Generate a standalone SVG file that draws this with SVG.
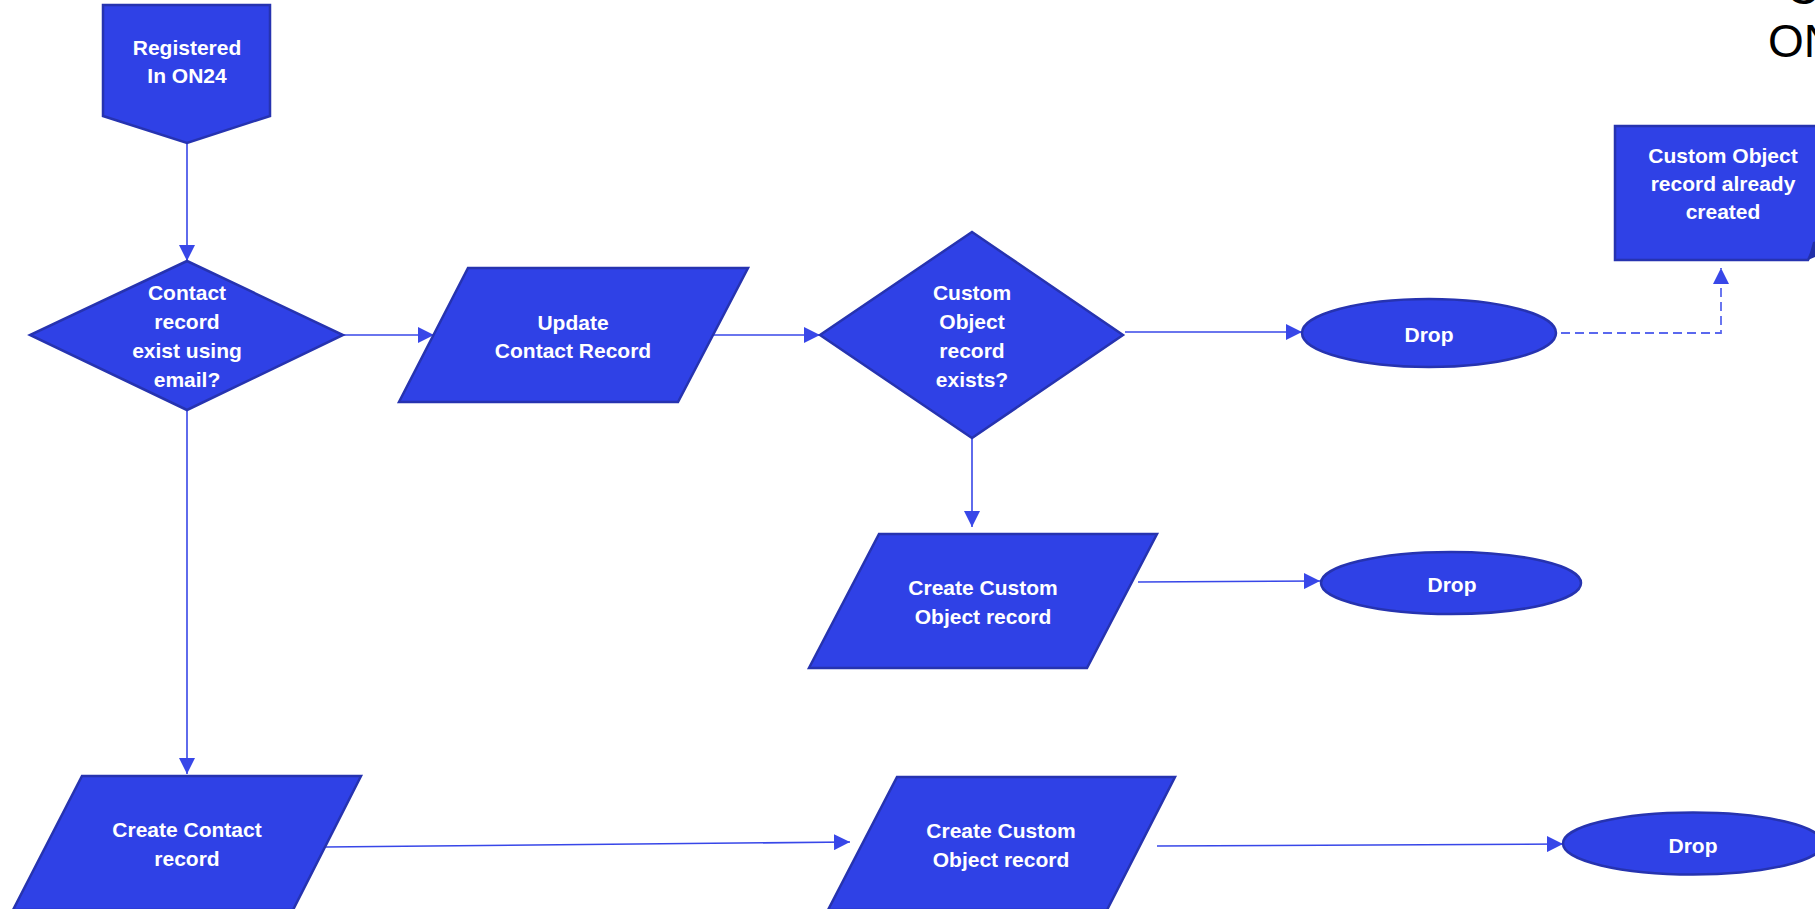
<svg xmlns="http://www.w3.org/2000/svg" width="1815" height="909" viewBox="0 0 1815 909">
<defs>
<style>
.n{fill:#2F41E6;stroke:#2633B0;stroke-width:2.5;stroke-linejoin:miter}
.t{font-family:"Liberation Sans",Arial,sans-serif;font-weight:bold;font-size:21px;fill:#ffffff;text-anchor:middle}
.c{fill:none;stroke:#3847E8;stroke-width:1.6}
.d{fill:none;stroke:#5A68EE;stroke-width:1.8;stroke-dasharray:9 5}
.ttl{font-family:"Liberation Sans",Arial,sans-serif;font-size:46px;fill:#000000}
</style>
<marker id="ah" markerUnits="userSpaceOnUse" markerWidth="16" markerHeight="16" viewBox="0 0 16 16" refX="16" refY="8" orient="auto">
<path d="M0,0 L16,8 L0,16 Z" fill="#3847E8"/>
</marker>
</defs>
<rect width="1815" height="909" fill="#ffffff"/>
<g id="title">
<text class="ttl" x="1786" y="4">C</text>
<text class="ttl" x="1768" y="57">ON24</text>
</g>
<g id="connectors">
<path class="c" d="M187,143 L187,261" marker-end="url(#ah)"/>
<path class="c" d="M343,335 L434,335" marker-end="url(#ah)"/>
<path class="c" d="M712,335 L820,335" marker-end="url(#ah)"/>
<path class="c" d="M1125,332 L1302,332" marker-end="url(#ah)"/>
<path class="c" d="M972,438 L972,527" marker-end="url(#ah)"/>
<path class="c" d="M1138,582 L1320,581" marker-end="url(#ah)"/>
<path class="c" d="M187,410 L187,774" marker-end="url(#ah)"/>
<path class="c" d="M325,847 L850,842" marker-end="url(#ah)"/>
<path class="c" d="M1157,846 L1563,844" marker-end="url(#ah)"/>
<path class="d" d="M1561,333 L1721,333 L1721,268" marker-end="url(#ah)"/>
</g>
<g id="registered">
<path class="n" d="M103,5 L270,5 L270,116 L187,143 L103,116 Z"/>
<text class="t" x="187" y="55">Registered</text>
<text class="t" x="187" y="83">In ON24</text>
</g>
<g id="contact-exists">
<path class="n" d="M187,261 L343,335 L187,410 L30,335 Z"/>
<text class="t" x="187" y="300">Contact</text>
<text class="t" x="187" y="329">record</text>
<text class="t" x="187" y="358">exist using</text>
<text class="t" x="187" y="387">email?</text>
</g>
<g id="update-contact">
<path class="n" d="M468,268 L748,268 L678,402 L399,402 Z"/>
<text class="t" x="573" y="330">Update</text>
<text class="t" x="573" y="358">Contact Record</text>
</g>
<g id="co-exists">
<path class="n" d="M972,232 L1123,335 L972,438 L820,335 Z"/>
<text class="t" x="972" y="300">Custom</text>
<text class="t" x="972" y="329">Object</text>
<text class="t" x="972" y="358">record</text>
<text class="t" x="972" y="387">exists?</text>
</g>
<g id="drop1">
<ellipse class="n" cx="1429" cy="333" rx="127" ry="34"/>
<text class="t" x="1429" y="342">Drop</text>
</g>
<g id="co-already">
<path class="n" d="M1615,126 L1817,126 L1817,241 L1808,260 L1615,260 Z"/>
<path d="M1808,260 L1813,242 L1817,241 L1817,256 Z" fill="#2230A8"/>
<text class="t" x="1723" y="163">Custom Object</text>
<text class="t" x="1723" y="191">record already</text>
<text class="t" x="1723" y="219">created</text>
</g>
<g id="create-co-mid">
<path class="n" d="M879,534 L1157,534 L1087,668 L809,668 Z"/>
<text class="t" x="983" y="595">Create Custom</text>
<text class="t" x="983" y="624">Object record</text>
</g>
<g id="drop2">
<ellipse class="n" cx="1451" cy="583" rx="130" ry="31"/>
<text class="t" x="1452" y="592">Drop</text>
</g>
<g id="create-contact">
<path class="n" d="M82,776 L361,776 L293,910 L13,910 Z"/>
<text class="t" x="187" y="837">Create Contact</text>
<text class="t" x="187" y="866">record</text>
</g>
<g id="create-co-bottom">
<path class="n" d="M897,777 L1175,777 L1107,910 L828,910 Z"/>
<text class="t" x="1001" y="838">Create Custom</text>
<text class="t" x="1001" y="867">Object record</text>
</g>
<g id="drop3">
<ellipse class="n" cx="1693" cy="843.5" rx="130" ry="31"/>
<text class="t" x="1693" y="853">Drop</text>
</g>
</svg>
